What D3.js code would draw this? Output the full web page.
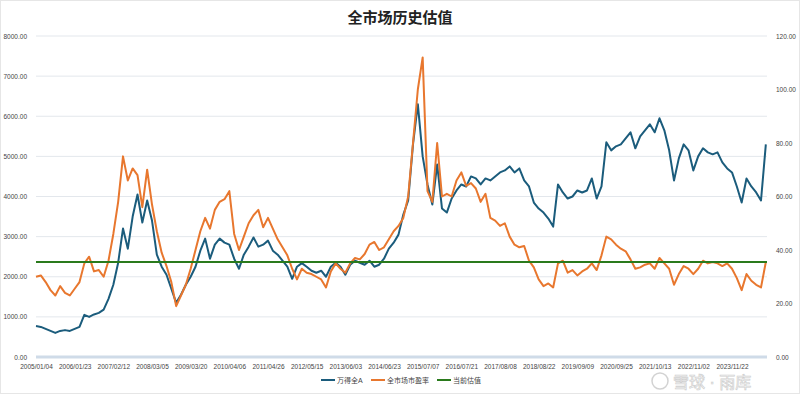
<!DOCTYPE html>
<html><head><meta charset="utf-8">
<script src="https://cdn.jsdelivr.net/npm/d3@7"></script>
<style>
html,body{margin:0;padding:0;background:#fff;}
svg{display:block;font-family:"Liberation Sans","Noto Sans CJK SC",Arial,sans-serif;}
</style></head>
<body><svg id="c" width="800" height="394"></svg>
<script>
// tick labels (one every ~255 trading days), samples every 1/8 of a tick interval
const dateLabels = ["2005/01/04","2006/01/23","2007/02/12","2008/03/05","2009/03/20","2010/04/06","2011/04/26","2012/05/15","2013/06/03","2014/06/23","2015/07/07","2016/07/21","2017/08/08","2018/08/22","2019/09/09","2020/09/25","2021/10/13","2022/11/02","2023/11/22"];
const samplesPerTick = 8;
// 万得全A (left axis)
const windA = [770,750,700,650,600,650,670,650,700,750,
1050,1000,1060,1100,1180,1450,1800,2350,3200,2700,
3500,4050,3350,3900,3400,2550,2250,2050,1700,1350,
1550,1800,2000,2250,2650,2950,2450,2800,2950,2850,
2800,2450,2200,2550,2750,2980,2750,2800,2900,2650,
2550,2400,2250,1950,2250,2340,2250,2150,2100,2150,
2000,2250,2350,2250,2050,2300,2400,2350,2300,2400,
2250,2300,2450,2700,2850,3050,3550,3900,5300,6300,
5000,4300,3800,4800,3700,3600,3950,4150,4300,4250,
4500,4450,4300,4450,4400,4500,4600,4650,4750,4600,
4700,4400,4250,3850,3700,3600,3450,3250,4300,4100,
3950,4000,4150,4100,4150,4450,3950,4250,5350,5150,
5250,5300,5450,5600,5200,5500,5650,5800,5600,5950,
5650,5150,4400,4950,5300,5150,4650,5000,5200,5100,
5050,5100,4850,4700,4600,4250,3850,4450,4250,4100,
3900,5300];
// 全市场市盈率 (right axis)
const marketPE = [30,30.5,28,25,23,26.5,24,23,25.5,28,
35,37.5,32,32.5,30,36,46,58,75,66,
70.5,68,56,70,57,47,39,34,28,19,
23,27,33,40,47,52,48,55,58,59,
62,46,40,45,50,53,55,48.5,52,48,
44,41,38,33,29,33,31.5,31,30,29,
26,32,35,33,31.5,35,37,36.5,38.5,42,
43,40,41,44,47,49,52,60,80,100,
112,62,58,80,60,61,60,66,69,64,
65,63,58,61,52,51,49,50,45,42,
41,41.5,36,33.5,29,26.5,27.5,26,35,36,
31.5,32.5,30.5,32,33,35,32.5,38,45,44,
42,40.5,39.5,36.5,33,33.5,34.5,35,33,37,
35,33,27,31,34,33,31,33,36,35,
35.5,35,34,35,33,29.5,25,31,28.5,27,
26,35.5];
const currentPE = 35.5;
const leftTicks = [0,1000,2000,3000,4000,5000,6000,7000,8000];
const rightTicks = [0,20,40,60,80,100,120];
const seriesNames = ["万得全A","全市场市盈率","当前估值"];
const colors = ["#1b5c7c","#e8772e","#2a7a1c"];

const svg = d3.select("#c");
const L = 36, R = 767, T = 36, B = 357;
const x = d3.scaleLinear().domain([0, dateLabels.length-1]).range([36, 732]);
const yL = d3.scaleLinear().domain([0,8000]).range([B,T]);
const yR = d3.scaleLinear().domain([0,120]).range([B,T]);

// frame
svg.append("rect").attr("x",0.5).attr("y",0.5).attr("width",799).attr("height",393)
  .attr("fill","#fff").attr("stroke","#e6e6e6");

// title
svg.append("text").attr("x",400).attr("y",23).attr("text-anchor","middle")
  .attr("font-size",15).attr("font-weight","bold").attr("fill","#222").text("全市场历史估值");

// grid
svg.append("g").selectAll("line").data(leftTicks.filter(d=>d>0)).join("line")
  .attr("x1",L).attr("x2",R).attr("y1",d=>yL(d)).attr("y2",d=>yL(d))
  .attr("stroke","#e3e7ec").attr("stroke-width",1);

// axes
const gl = svg.append("g").attr("transform",`translate(${L-6},0)`)
  .call(d3.axisLeft(yL).tickValues(leftTicks).tickFormat(d3.format(".2f")).tickSize(0));
gl.select(".domain").remove();
gl.selectAll("text").attr("font-size",6.5).attr("fill","#444").attr("font-family","Liberation Sans, Arial, sans-serif");

const gr = svg.append("g").attr("transform",`translate(${R+6},0)`)
  .call(d3.axisRight(yR).tickValues(rightTicks).tickFormat(d3.format(".2f")).tickSize(0));
gr.select(".domain").remove();
gr.selectAll("text").attr("font-size",6.5).attr("fill","#444").attr("font-family","Liberation Sans, Arial, sans-serif");

svg.append("line").attr("x1",L).attr("x2",R).attr("y1",B).attr("y2",B)
  .attr("stroke","#cfdbe8").attr("stroke-width",3);

const gx = svg.append("g").attr("transform",`translate(0,${B+4})`)
  .call(d3.axisBottom(x).tickValues(d3.range(dateLabels.length)).tickFormat(i=>dateLabels[i]).tickSize(0));
gx.select(".domain").remove();
gx.selectAll("text").attr("font-size",6.5).attr("fill","#444").attr("font-family","Liberation Sans, Arial, sans-serif");

// lines
const xs = i => x(i/samplesPerTick);
svg.append("path").datum(windA)
  .attr("d", d3.line().x((d,i)=>xs(i)).y(d=>yL(d)))
  .attr("fill","none").attr("stroke",colors[0]).attr("stroke-width",2).attr("stroke-linejoin","round");
svg.append("path").datum(marketPE)
  .attr("d", d3.line().x((d,i)=>xs(i)).y(d=>yR(d)))
  .attr("fill","none").attr("stroke",colors[1]).attr("stroke-width",2).attr("stroke-linejoin","round");
svg.append("line").attr("x1",L).attr("x2",R).attr("y1",yR(currentPE)).attr("y2",yR(currentPE))
  .attr("stroke",colors[2]).attr("stroke-width",2);

// legend
const legX = [321,371,437];
const lg = svg.append("g");
seriesNames.forEach((n,i)=>{
  lg.append("line").attr("x1",legX[i]).attr("x2",legX[i]+14).attr("y1",380).attr("y2",380)
    .attr("stroke",colors[i]).attr("stroke-width",2);
  lg.append("text").attr("x",legX[i]+16).attr("y",382.5).attr("font-size",7).attr("fill","#444").text(n);
});

// watermark (kept just below the date labels)
const wm = svg.append("g").attr("opacity",0.8);
wm.append("circle").attr("cx",660).attr("cy",381).attr("r",8).attr("fill","none").attr("stroke","#c8c8c8").attr("stroke-width",1.5);
wm.append("text").attr("x",673).attr("y",388).attr("font-size",16).attr("fill","rgba(255,255,255,0.6)")
  .attr("stroke","#c4c4c4").attr("stroke-width",0.7).text("雪球 · 雨库");
</script></body></html>
